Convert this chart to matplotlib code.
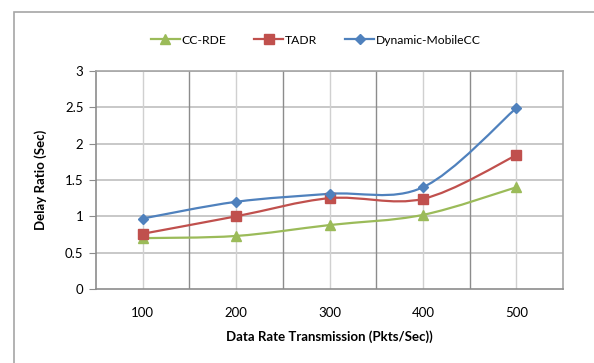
import numpy as np
import matplotlib
matplotlib.use("Agg")
import matplotlib.pyplot as plt
from matplotlib.path import Path
from matplotlib.patches import PathPatch, Rectangle
from matplotlib.lines import Line2D

plt.rcParams['font.family'] = ['Lato', 'DejaVu Sans']

# data
rates = [100, 200, 300, 400, 500]
cc_rde = [0.70, 0.73, 0.88, 1.02, 1.40]
tadr = [0.76, 1.00, 1.25, 1.24, 1.84]
dyn_mobilecc = [0.97, 1.20, 1.31, 1.40, 2.49]

series = [
    ('CC-RDE', cc_rde, '#9BBB59', '^', 7),
    ('TADR', tadr, '#C0504D', 's', 7),
    ('Dynamic-MobileCC', dyn_mobilecc, '#4F81BD', 'D', 5.5),
]


def smooth_path(xs, ys):
    # excel-like smoothing: bezier segments with catmull-rom control points
    pts = np.column_stack([xs, ys]).astype(float)
    n = len(pts)
    verts = [pts[0]]
    codes = [Path.MOVETO]
    for i in range(n - 1):
        p0 = pts[i - 1] if i > 0 else pts[i]
        p1 = pts[i]
        p2 = pts[i + 1]
        p3 = pts[i + 2] if i + 2 < n else pts[i + 1]
        c1 = p1 + (p2 - p0) / 6.0
        c2 = p2 - (p3 - p1) / 6.0
        verts += [c1, c2, p2]
        codes += [Path.CURVE4] * 3
    return Path(verts, codes)


fig = plt.figure(figsize=(5.94, 3.63), dpi=100)
ax = fig.add_axes([96 / 594, 1 - 289 / 363, (563 - 96) / 594, (289 - 71) / 363])

# outer chart border (only left/top visible in the crop)
fig.patches.append(Rectangle((14 / 594, -0.1), 1.2, 1 - 12 / 363 + 0.1,
                             transform=fig.transFigure, fill=False,
                             edgecolor='#A6A6A6', linewidth=1.2))

ax.set_xlim(50, 550)
ax.set_ylim(0, 3)

# grid: horizontal, light verticals at categories, darker at boundaries
for y in np.arange(0.5, 3.01, 0.5):
    ax.axhline(y, color='#BFBFBF', linewidth=1.2, zorder=0)
for x in rates:
    ax.axvline(x, color='#D0D0D0', linewidth=1.0, zorder=0)
for x in [150, 250, 350, 450]:
    ax.axvline(x, color='#8C8C8C', linewidth=1.0, zorder=0)

for name, vals, col, mk, ms in series:
    ax.add_patch(PathPatch(smooth_path(rates, vals), facecolor='none',
                           edgecolor=col, linewidth=1.6, zorder=3))
    ax.plot(rates, vals, linestyle='none', marker=mk, markersize=ms,
            color=col, zorder=4)

for s in ['top', 'right']:
    ax.spines[s].set_color('#A6A6A6')
ax.spines['left'].set_color('#8C8C8C')
ax.spines['bottom'].set_color('#8C8C8C')
for s in ax.spines.values():
    s.set_linewidth(1.2)

ax.set_xticks(rates)
ax.set_xticklabels([str(r) for r in rates])
ax.tick_params(axis='x', length=0, pad=13, labelsize=9.5)
ax.set_yticks(np.arange(0, 3.01, 0.5))
ax.set_yticklabels(['0', '0.5', '1', '1.5', '2', '2.5', '3'])
ax.tick_params(axis='y', length=5, direction='out', color='#8C8C8C',
               labelsize=9.5, pad=4)

ax.set_xlabel('Data Rate Transmission (Pkts/Sec))', fontsize=9.5,
              fontweight='bold', labelpad=8)
ax.set_ylabel('Delay Ratio (Sec)', fontsize=9.5, fontweight='bold', labelpad=13)

handles = [Line2D([0], [0], color=c, marker=m, markersize=ms, linewidth=1.6)
           for _, _, c, m, ms in series]
fig.legend(handles, [s[0] for s in series], loc='center',
           bbox_to_anchor=(316 / 594, 1 - 40 / 363), ncol=3, frameon=False,
           fontsize=8.7, handlelength=2.4, handletextpad=0.15, columnspacing=2.3)

fig.savefig('out.png', dpi=100, facecolor='white')
